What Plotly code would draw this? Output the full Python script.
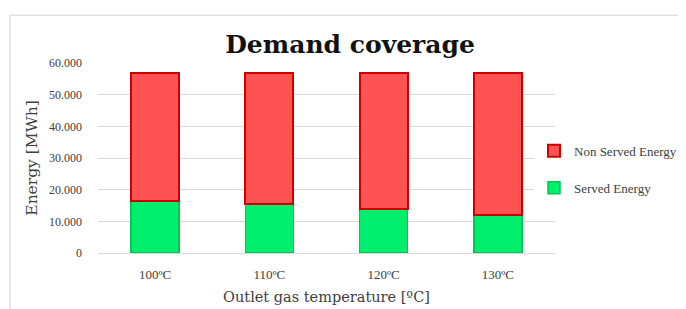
import plotly.graph_objects as go

categories = ["100ºC", "110ºC", "120ºC", "130ºC"]
served = [16500, 15400, 13800, 12100]
total = [56700, 56700, 56700, 56700]
non_served = [t - s for t, s in zip(total, served)]
y_ticks = [0, 10000, 20000, 30000, 40000, 50000, 60000]

SERIF = "Liberation Serif"
WIDE = "DejaVu Serif"
OFF = 8  # browser body margin

# target plot area in screen pixels
PL, PR, PT, PB = 98, 555, 63, 253.5
W, H = 686, 309
ml = PL - OFF
mt = PT - OFF
mr = W - (PR - OFF)
mb = H - (PB - OFF)
pw = PR - PL
ph = PB - PT

fig = go.Figure()
fig.add_trace(go.Bar(
    x=categories, y=served, name="Served Energy",
    marker=dict(color="#00ee6c", line=dict(color="#00c455", width=1.5)),
    legendgroup="served", legendrank=2,
))
fig.add_trace(go.Bar(
    x=categories, y=non_served, name="Non Served Energy",
    marker=dict(color="#ff5252", line=dict(color="#cc0000", width=2)),
    legendgroup="nonserved", legendrank=1,
))

fig.update_layout(
    width=W, height=H,
    barmode="stack",
    bargap=0.58,
    separators=",.",
    paper_bgcolor="white",
    plot_bgcolor="white",
    margin=dict(l=ml, r=mr, t=mt, b=mb, autoexpand=False),
    font=dict(family=SERIF, color="#404040", size=12),
    title=dict(
        text="<b>Demand coverage</b>",
        x=(350 - OFF) / W, xanchor="center", xref="container",
        y=1 - (44 - OFF) / H, yanchor="middle", yref="container",
        font=dict(family=WIDE, size=25, color="#111111"),
    ),
    legend=dict(
        x=(534 - PL) / pw, xanchor="left",
        y=(PB - 136) / ph, yanchor="top",
        traceorder="grouped", tracegroupgap=17,
        font=dict(family=SERIF, size=13, color="#404040"),
        itemwidth=30,
    ),
    xaxis=dict(
        showgrid=False, showline=False, ticks="",
        ticklabelstandoff=12,
        tickfont=dict(family=SERIF, size=13, color="#404040"),
        title=dict(text="Outlet gas temperature [ºC]", standoff=10,
                   font=dict(family=WIDE, size=14.5, color="#404040")),
    ),
    yaxis=dict(
        range=[0, 60000], tickvals=y_ticks, tickformat=",d",
        showgrid=True, gridcolor="#d9d9d9", gridwidth=1,
        zeroline=True, zerolinecolor="#d9d9d9", zerolinewidth=1,
        showline=False, ticks="",
        ticklabelstandoff=15,
        tickfont=dict(family=SERIF, size=12, color="#404040"),
        title=dict(text="Energy [MWh]", standoff=7,
                   font=dict(family=WIDE, size=15.5, color="#404040")),
    ),
    shapes=[dict(
        type="rect", xref="paper", yref="paper",
        x0=(10 - PL) / pw, x1=(720 - PL) / pw,
        y0=(PB - 340) / ph, y1=(PB - 15) / ph,
        line=dict(color="#e0e0e0", width=1.5), fillcolor="rgba(0,0,0,0)",
        layer="below",
    )],
)

fig.write_html("out.html")
